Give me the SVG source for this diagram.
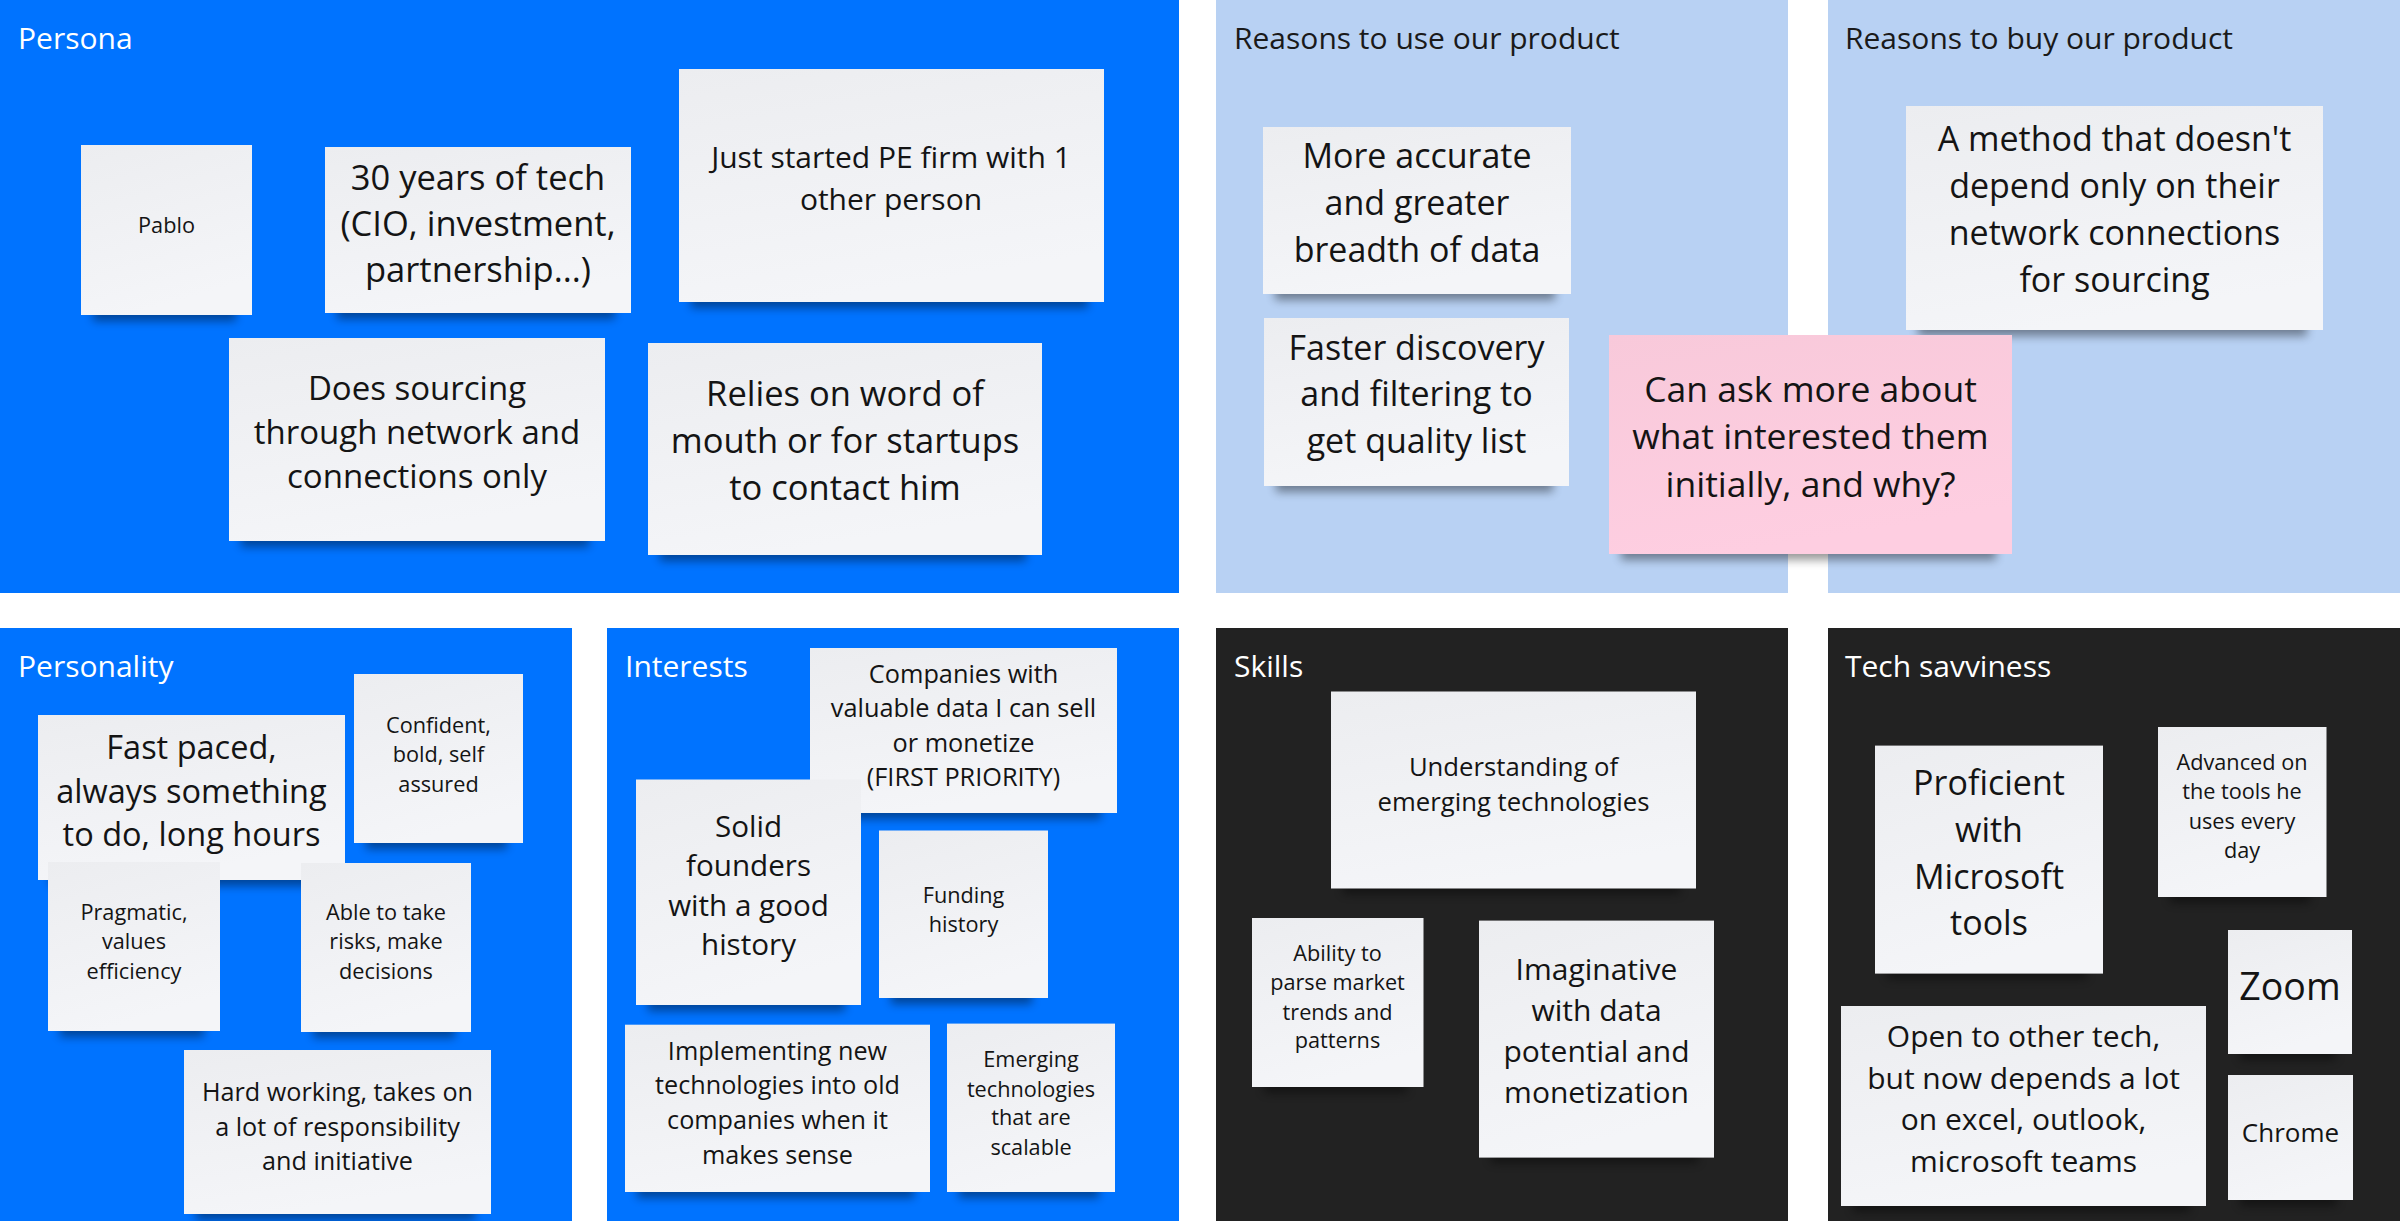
<svg xmlns="http://www.w3.org/2000/svg" width="2400" height="1221" viewBox="0 0 2400 1221">
<defs>
<linearGradient id="gPaper" x1="0" y1="0" x2="0.3" y2="1">
<stop offset="0" stop-color="#ECEDF0"/>
<stop offset="1" stop-color="#F4F5F8"/>
</linearGradient>
<linearGradient id="gPink" x1="0" y1="0" x2="0.3" y2="1">
<stop offset="0" stop-color="#F8C9DA"/>
<stop offset="1" stop-color="#FECEE1"/>
</linearGradient>
<filter id="fBlur" filterUnits="userSpaceOnUse" x="0" y="0" width="2400" height="1221">
<feGaussianBlur stdDeviation="5"/>
</filter>
<style>
.blue{fill:#0073FF}
.light{fill:#B8D1F3}
.dark{fill:#222222}
.ttl{font-family:"Open Sans","Noto Sans","Liberation Sans",sans-serif;font-size:30px}
.tw{fill:#FFFFFF}
.tk{fill:#1A1A1A}
.pap{fill:url(#gPaper)}
.pink{fill:url(#gPink)}
.sh{fill:#000000;opacity:0.4;filter:url(#fBlur)}
.nt{font-family:"Open Sans","Noto Sans","Liberation Sans",sans-serif;fill:#141414;text-anchor:middle}
.s{font-size:21.7px}
</style>
</defs>
<rect x="0" y="0" width="2400" height="1221" fill="#FFFFFF"/>

<g id="panel-persona"><rect class="blue" x="0" y="0" width="1179" height="593"/><text class="ttl tw" x="18" y="49">Persona</text></g>
<g id="panel-use"><rect class="light" x="1216" y="0" width="572" height="593"/><text class="ttl tk" x="1234" y="49">Reasons to use our product</text></g>
<g id="panel-buy"><rect class="light" x="1828" y="0" width="572" height="593"/><text class="ttl tk" x="1845" y="49">Reasons to buy our product</text></g>
<g id="panel-personality"><rect class="blue" x="0" y="628" width="572" height="593"/><text class="ttl tw" x="18" y="677">Personality</text></g>
<g id="panel-interests"><rect class="blue" x="607" y="628" width="572" height="593"/><text class="ttl tw" x="625" y="677">Interests</text></g>
<g id="panel-skills"><rect class="dark" x="1216" y="628" width="572" height="593"/><text class="ttl tw" x="1234" y="677">Skills</text></g>
<g id="panel-tech"><rect class="dark" x="1828" y="628" width="572" height="593"/><text class="ttl tw" x="1845" y="677">Tech savviness</text></g>

<g id="connectors"></g>

<g id="note-pablo"><rect class="sh" x="93" y="299" width="143" height="22"/><rect class="pap" x="81" y="145" width="171" height="170"/><text class="nt s"><tspan x="166.5" y="233">Pablo</tspan></text></g>
<g id="note-30years"><rect class="sh" x="337" y="297" width="278" height="22"/><rect class="pap" x="325" y="147" width="306" height="166"/><text class="nt" font-size="34.5"><tspan x="478" y="190">30 years of tech</tspan><tspan x="478" y="236">(CIO, investment,</tspan><tspan x="478" y="282">partnership...)</tspan></text></g>
<g id="note-juststarted"><rect class="sh" x="691" y="286" width="397" height="22"/><rect class="pap" x="679" y="69" width="425" height="233"/><text class="nt" font-size="30"><tspan x="891" y="168">Just started PE firm with 1</tspan><tspan x="891" y="210">other person</tspan></text></g>
<g id="note-sourcing"><rect class="sh" x="241" y="525" width="348" height="22"/><rect class="pap" x="229" y="338" width="376" height="203"/><text class="nt" font-size="33"><tspan x="417" y="400">Does sourcing</tspan><tspan x="417" y="444">through network and</tspan><tspan x="417" y="488">connections only</tspan></text></g>
<g id="note-relies"><rect class="sh" x="660" y="539" width="366" height="22"/><rect class="pap" x="648" y="343" width="394" height="212"/><text class="nt" font-size="34.5"><tspan x="845" y="406">Relies on word of</tspan><tspan x="845" y="453">mouth or for startups</tspan><tspan x="845" y="500">to contact him</tspan></text></g>

<g id="note-accurate"><rect class="sh" x="1275" y="278" width="280" height="22"/><rect class="pap" x="1263" y="127" width="308" height="167"/><text class="nt" font-size="34"><tspan x="1417" y="168">More accurate</tspan><tspan x="1417" y="215">and greater</tspan><tspan x="1417" y="262">breadth of data</tspan></text></g>
<g id="note-faster"><rect class="sh" x="1276" y="470" width="277" height="22"/><rect class="pap" x="1264" y="318" width="305" height="168"/><text class="nt" font-size="34"><tspan x="1416.5" y="360">Faster discovery</tspan><tspan x="1416.5" y="406">and filtering to</tspan><tspan x="1416.5" y="453">get quality list</tspan></text></g>
<g id="note-method"><rect class="sh" x="1918" y="314" width="389" height="22"/><rect class="pap" x="1906" y="106" width="417" height="224"/><text class="nt" font-size="34"><tspan x="2114.5" y="151">A method that doesn't</tspan><tspan x="2114.5" y="198">depend only on their</tspan><tspan x="2114.5" y="245">network connections</tspan><tspan x="2114.5" y="292">for sourcing</tspan></text></g>
<g id="note-askmore"><rect class="sh" x="1621" y="538" width="375" height="22"/><rect class="pink" x="1609" y="335" width="403" height="219"/><text class="nt" font-size="35.5"><tspan x="1810.5" y="402">Can ask more about</tspan><tspan x="1810.5" y="449">what interested them</tspan><tspan x="1810.5" y="497">initially, and why?</tspan></text></g>

<g id="note-fastpaced"><rect class="sh" x="50" y="864" width="279" height="22"/><rect class="pap" x="38" y="715" width="307" height="165"/><text class="nt" font-size="32.5"><tspan x="191.5" y="759">Fast paced,</tspan><tspan x="191.5" y="803">always something</tspan><tspan x="191.5" y="846">to do, long hours</tspan></text></g>
<g id="note-confident"><rect class="sh" x="366" y="827" width="141" height="22"/><rect class="pap" x="354" y="674" width="169" height="169"/><text class="nt s"><tspan x="438.5" y="732.5">Confident,</tspan><tspan x="438.5" y="762">bold, self</tspan><tspan x="438.5" y="792">assured</tspan></text></g>
<g id="note-pragmatic"><rect class="sh" x="60" y="1015" width="144" height="22"/><rect class="pap" x="48" y="862" width="172" height="169"/><text class="nt s"><tspan x="134" y="920">Pragmatic,</tspan><tspan x="134" y="949">values</tspan><tspan x="134" y="978.5">efficiency</tspan></text></g>
<g id="note-able"><rect class="sh" x="313" y="1016" width="142" height="22"/><rect class="pap" x="301" y="863" width="170" height="169"/><text class="nt s"><tspan x="386" y="920">Able to take</tspan><tspan x="386" y="949">risks, make</tspan><tspan x="386" y="978.5">decisions</tspan></text></g>
<g id="note-hardworking"><rect class="sh" x="196" y="1198" width="279" height="22"/><rect class="pap" x="184" y="1050" width="307" height="164"/><text class="nt" font-size="25.2"><tspan x="337.5" y="1100.6">Hard working, takes on</tspan><tspan x="337.5" y="1135.7">a lot of responsibility</tspan><tspan x="337.5" y="1170">and initiative</tspan></text></g>

<g id="note-companies"><rect class="sh" x="822" y="797" width="279" height="22"/><rect class="pap" x="810" y="648" width="307" height="165"/><text class="nt" font-size="25.3"><tspan x="963.5" y="682.5">Companies with</tspan><tspan x="963.5" y="717">valuable data I can sell</tspan><tspan x="963.5" y="751.7">or monetize</tspan><tspan x="963.5" y="786">(FIRST PRIORITY)</tspan></text></g>
<g id="note-solid"><rect class="sh" x="648" y="989" width="197" height="22"/><rect class="pap" x="636" y="779.5" width="225" height="225.5"/><text class="nt" font-size="29.6"><tspan x="748.5" y="836.8">Solid</tspan><tspan x="748.5" y="876">founders</tspan><tspan x="748.5" y="915.6">with a good</tspan><tspan x="748.5" y="954.8">history</tspan></text></g>
<g id="note-funding"><rect class="sh" x="891" y="982" width="141" height="22"/><rect class="pap" x="879" y="830.5" width="169" height="167.5"/><text class="nt s"><tspan x="963.5" y="903.4">Funding</tspan><tspan x="963.5" y="932.3">history</tspan></text></g>
<g id="note-implementing"><rect class="sh" x="637" y="1176" width="277" height="22"/><rect class="pap" x="625" y="1024.7" width="305" height="167.3"/><text class="nt" font-size="25.2"><tspan x="777.5" y="1060">Implementing new</tspan><tspan x="777.5" y="1094.3">technologies into old</tspan><tspan x="777.5" y="1129">companies when it</tspan><tspan x="777.5" y="1164">makes sense</tspan></text></g>
<g id="note-emerging"><rect class="sh" x="959" y="1176" width="140" height="22"/><rect class="pap" x="947" y="1023.6" width="168" height="168.4"/><text class="nt s"><tspan x="1031" y="1067.3">Emerging</tspan><tspan x="1031" y="1097">technologies</tspan><tspan x="1031" y="1125.4">that are</tspan><tspan x="1031" y="1155">scalable</tspan></text></g>

<g id="note-understanding"><rect class="sh" x="1343" y="872" width="337" height="22"/><rect class="pap" x="1331" y="691.5" width="365" height="197"/><text class="nt" font-size="25.7"><tspan x="1513.5" y="775.6">Understanding of</tspan><tspan x="1513.5" y="810.7">emerging technologies</tspan></text></g>
<g id="note-ability"><rect class="sh" x="1264" y="1071" width="143" height="22"/><rect class="pap" x="1252" y="918" width="171.5" height="169"/><text class="nt s"><tspan x="1337.5" y="960.7">Ability to</tspan><tspan x="1337.5" y="990">parse market</tspan><tspan x="1337.5" y="1020">trends and</tspan><tspan x="1337.5" y="1048.4">patterns</tspan></text></g>
<g id="note-imaginative"><rect class="sh" x="1491" y="1141" width="207" height="22"/><rect class="pap" x="1479" y="920.6" width="235" height="237"/><text class="nt" font-size="30"><tspan x="1596.5" y="980">Imaginative</tspan><tspan x="1596.5" y="1021">with data</tspan><tspan x="1596.5" y="1062">potential and</tspan><tspan x="1596.5" y="1103">monetization</tspan></text></g>

<g id="note-proficient"><rect class="sh" x="1887" y="957" width="200" height="22"/><rect class="pap" x="1875" y="745.6" width="228" height="228"/><text class="nt" font-size="34"><tspan x="1989" y="795">Proficient</tspan><tspan x="1989" y="842">with</tspan><tspan x="1989" y="888.6">Microsoft</tspan><tspan x="1989" y="935.4">tools</tspan></text></g>
<g id="note-advanced"><rect class="sh" x="2170" y="881" width="140" height="22"/><rect class="pap" x="2158" y="727" width="168.5" height="170"/><text class="nt s"><tspan x="2242" y="769.8">Advanced on</tspan><tspan x="2242" y="799">the tools he</tspan><tspan x="2242" y="829">uses every</tspan><tspan x="2242" y="858">day</tspan></text></g>
<g id="note-zoom"><rect class="sh" x="2240" y="1038" width="96" height="22"/><rect class="pap" x="2228" y="930" width="124" height="124"/><text class="nt" font-size="37.5"><tspan x="2290" y="1000">Zoom</tspan></text></g>
<g id="note-opentech"><rect class="sh" x="1853" y="1190" width="337" height="22"/><rect class="pap" x="1841" y="1006" width="365" height="200"/><text class="nt" font-size="30"><tspan x="2023.5" y="1046.5">Open to other tech,</tspan><tspan x="2023.5" y="1088.6">but now depends a lot</tspan><tspan x="2023.5" y="1130">on excel, outlook,</tspan><tspan x="2023.5" y="1172">microsoft teams</tspan></text></g>
<g id="note-chrome"><rect class="sh" x="2240" y="1184" width="97" height="22"/><rect class="pap" x="2228" y="1075" width="125" height="125"/><text class="nt" font-size="26"><tspan x="2290.5" y="1142">Chrome</tspan></text></g>
</svg>
